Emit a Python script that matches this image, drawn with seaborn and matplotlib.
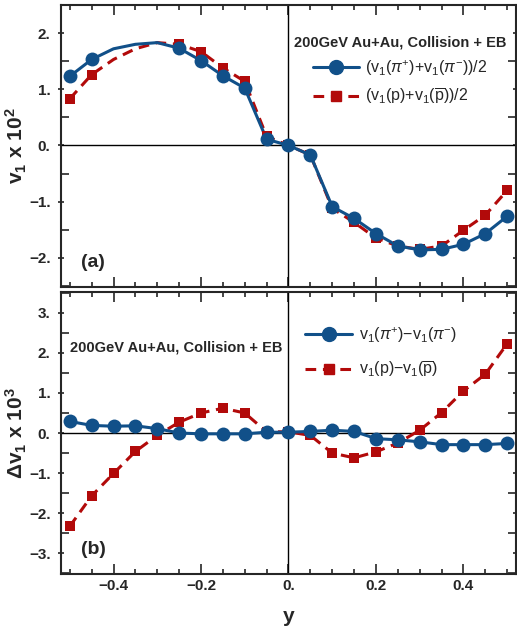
"""
Directed flow v1 vs rapidity
Pions and protons, 200GeV Au+Au, collision + EB
"""

import numpy as np
import pandas as pd
import matplotlib
matplotlib.use("Agg")
import matplotlib.pyplot as plt
from matplotlib.lines import Line2D
from matplotlib.ticker import MultipleLocator, FuncFormatter
import seaborn as sns

# Rapidity bins
rapidity = [-0.5, -0.45, -0.4, -0.35, -0.3, -0.25, -0.2, -0.15, -0.1, -0.05, 0.0,
            0.05, 0.1, 0.15, 0.2, 0.25, 0.3, 0.35, 0.4, 0.45, 0.5]

# Panel (a): v1 x 10^2
v1_pion_avg = [1.23, 1.53, 1.72, 1.80, 1.83, 1.73, 1.51, 1.24, 1.02, 0.11, 0.0,
               -0.17, -1.09, -1.30, -1.57, -1.79, -1.86, -1.85, -1.76, -1.57, -1.26]
v1_proton_avg = [0.83, 1.26, 1.53, 1.72, 1.83, 1.80, 1.67, 1.38, 1.14, 0.16, 0.0,
                 -0.17, -1.12, -1.37, -1.65, -1.79, -1.85, -1.79, -1.51, -1.24, -0.80]
# points drawn without a marker in panel (a)
top_marked = [True, True, False, False, False, True, True, True, True, True, True,
              True, True, True, True, True, True, True, True, True, True]

# Panel (b): delta v1 x 10^3
dv1_pion = [0.29, 0.19, 0.17, 0.18, 0.11, 0.0, -0.02, -0.02, -0.02, 0.02, 0.02,
            0.04, 0.07, 0.04, -0.14, -0.17, -0.22, -0.29, -0.29, -0.29, -0.26]
dv1_proton = [-2.33, -1.57, -1.01, -0.46, -0.06, 0.27, 0.50, 0.62, 0.50, 0.03, 0.03,
              -0.06, -0.50, -0.62, -0.47, -0.25, 0.07, 0.51, 1.05, 1.47, 2.23]

x_ticks = [-0.4, -0.2, 0.0, 0.2, 0.4]
x_tick_labels = ["\u22120.4", "\u22120.2", "0.", "0.2", "0.4"]

BLUE = "#115089"
RED = "#b20a0a"
TITLE = "200GeV Au+Au, Collision + EB"
DASH = (0, (3.5, 2.2))

plt.rcParams.update({
    "mathtext.fontset": "custom",
    "mathtext.rm": "Liberation Sans",
    "mathtext.it": "Liberation Sans:italic",
    "mathtext.bf": "Liberation Sans:bold",
})
sns.set_style("ticks")
plt.rcParams["font.family"] = ["Liberation Sans", "DejaVu Sans"]


def y_fmt(v, pos):
    s = f"{v:.0f}."
    return s.replace("-", "\u2212")


def style_axis(ax, ylim, show_xlabels):
    ax.set_xlim(-0.52, 0.52)
    ax.set_ylim(*ylim)
    ax.axhline(0, color="black", lw=1.0, zorder=1)
    ax.axvline(0, color="black", lw=1.0, zorder=1)
    ax.xaxis.set_major_locator(MultipleLocator(0.2))
    ax.xaxis.set_minor_locator(MultipleLocator(0.05))
    ax.yaxis.set_major_locator(MultipleLocator(1))
    ax.yaxis.set_minor_locator(MultipleLocator(0.5))
    ax.yaxis.set_major_formatter(FuncFormatter(y_fmt))
    ax.tick_params(which="both", top=True, right=True, width=1.2)
    ax.tick_params(axis="x", which="major", direction="in", length=7)
    ax.tick_params(axis="x", which="minor", direction="in", length=3.5)
    ax.tick_params(axis="y", which="major", direction="inout", length=5, pad=5)
    ax.tick_params(axis="y", which="minor", direction="in", length=6)
    ax.tick_params(which="major", labelsize=11)
    for lbl in ax.get_yticklabels():
        lbl.set_fontweight("bold")
    if show_xlabels:
        ax.set_xticks(x_ticks)
        ax.set_xticklabels(x_tick_labels, fontweight="bold", fontsize=11)
    else:
        ax.tick_params(axis="x", labelbottom=False)
    for sp in ax.spines.values():
        sp.set_linewidth(1.5)
    ax.set_xlabel("")


def draw_series(ax, df, col, color, dashed, marker, msize, mask=None):
    sns.lineplot(data=df, x="y", y=col, ax=ax, color=color, lw=2.2,
                 linestyle=DASH if dashed else "-", zorder=3)
    pts = df if mask is None else df[mask]
    sns.scatterplot(data=pts, x="y", y=col, ax=ax, color=color, marker=marker,
                    s=msize, edgecolor=color, linewidth=0, zorder=4)


def legend_handles():
    blue = Line2D([], [], color=BLUE, lw=2.2, marker="o", markersize=10)
    red = Line2D([], [], color=RED, lw=2.2, linestyle=DASH,
                 marker="s", markersize=7)
    return blue, red


def main():
    df = pd.DataFrame({
        "y": rapidity,
        "pion_avg": v1_pion_avg,
        "proton_avg": v1_proton_avg,
        "dpion": dv1_pion,
        "dproton": dv1_proton,
    })
    mask = np.array(top_marked)

    fig = plt.figure(figsize=(5.17, 6.31), dpi=100)
    ax_a = fig.add_axes([0.118, 0.5452, 0.880, 0.4469])
    ax_b = fig.add_axes([0.118, 0.0903, 0.880, 0.4469])

    # Panel (a)
    draw_series(ax_a, df, "proton_avg", RED, True, "s", 50, mask)
    draw_series(ax_a, df, "pion_avg", BLUE, False, "o", 100, mask)
    style_axis(ax_a, (-2.52, 2.5), False)
    ax_a.set_ylabel(r"$\mathbf{v_1}$ x 10$^\mathbf{2}$", fontsize=15,
                    fontweight="bold")
    ax_a.yaxis.set_label_coords(-0.071, 0.5)
    blue, red = legend_handles()
    leg = ax_a.legend([blue, red],
                      [r"(v$_1$($\pi^{+}$)+v$_1$($\pi^{-}$))/2",
                       r"(v$_1$(p)+v$_1$($\overline{\rm p}$))/2"],
                      title=TITLE, loc="upper right", bbox_to_anchor=(1.012, 0.945),
                      frameon=False, fontsize=11.5, handlelength=2.9,
                      handletextpad=0.35, borderaxespad=0.2, borderpad=0.75,
                      labelspacing=0.54)
    leg.get_title().set_fontweight("bold")
    leg.get_title().set_fontsize(10.5)
    ax_a.text(0.045, 0.07, "(a)", transform=ax_a.transAxes, fontsize=14,
              fontweight="bold")

    # Panel (b)
    draw_series(ax_b, df, "dproton", RED, True, "s", 50)
    draw_series(ax_b, df, "dpion", BLUE, False, "o", 100)
    style_axis(ax_b, (-3.52, 3.52), True)
    ax_b.set_ylabel(r"$\mathbf{\Delta v_1}$ x 10$^\mathbf{3}$", fontsize=15,
                    fontweight="bold")
    ax_b.yaxis.set_label_coords(-0.071, 0.5)
    ax_b.set_xlabel("y", fontsize=15, fontweight="bold", labelpad=10)
    ax_b.legend([blue, red],
                [r"v$_1$($\pi^{+}$)$-$v$_1$($\pi^{-}$)",
                 r"v$_1$(p)$-$v$_1$($\overline{\rm p}$)"],
                loc="upper left", bbox_to_anchor=(0.523, 0.904), borderaxespad=0,
                frameon=False, fontsize=11.5, handlelength=2.95,
                handletextpad=0.38, labelspacing=0.9)
    ax_b.text(0.02, 0.79, TITLE, transform=ax_b.transAxes, fontsize=10.5,
              fontweight="bold")
    ax_b.text(0.045, 0.07, "(b)", transform=ax_b.transAxes, fontsize=14,
              fontweight="bold")

    fig.savefig("out.png", dpi=100)
    plt.close(fig)


if __name__ == "__main__":
    main()
